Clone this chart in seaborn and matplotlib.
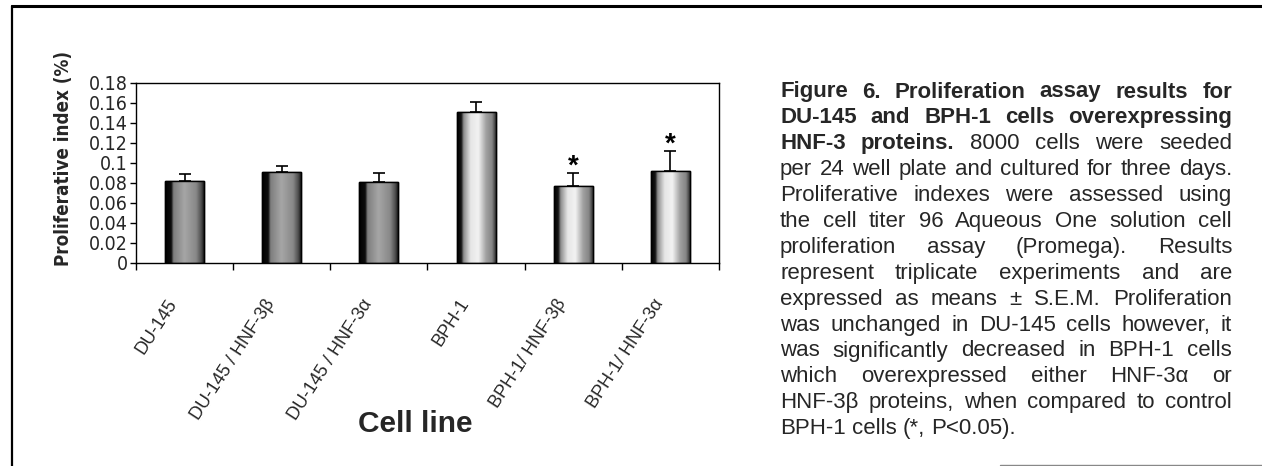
import os
import numpy as np
import pandas as pd
import matplotlib
matplotlib.use("Agg")
import matplotlib.pyplot as plt
import seaborn as sns
from matplotlib import font_manager
from matplotlib.font_manager import FontProperties
from matplotlib.colors import LinearSegmentedColormap
from matplotlib.lines import Line2D

# ---------------- data ----------------
categories = ["DU-145", "DU-145 / HNF-3β", "DU-145 / HNF-3α",
              "BPH-1", "BPH-1/ HNF-3β", "BPH-1/ HNF-3α"]
groups = ["DU-145", "DU-145", "DU-145", "BPH-1", "BPH-1", "BPH-1"]
values = [0.082, 0.091, 0.081, 0.151, 0.077, 0.092]
sem = [0.007, 0.006, 0.009, 0.010, 0.013, 0.020]
significant = [False, False, False, False, True, True]
ytick_values = [0, 0.02, 0.04, 0.06, 0.08, 0.10, 0.12, 0.14, 0.16, 0.18]
ytick_labels = ["0", "0.02", "0.04", "0.06", "0.08", "0.1", "0.12", "0.14", "0.16", "0.18"]
ylabel = "Proliferative index (%)"
xlabel = "Cell line"

caption_lines = [
    [("Figure", "bold"), ("6.", "bold"), ("Proliferation", "bold"), ("assay", "bold"), ("results", "bold"), ("for", "bold")],
    [("DU-145", "bold"), ("and", "bold"), ("BPH-1", "bold"), ("cells", "bold"), ("overexpressing", "bold")],
    [("HNF-3", "bold"), ("proteins.", "bold"), ("8000", "normal"), ("cells", "normal"), ("were", "normal"), ("seeded", "normal")],
    [(w, "normal") for w in "per 24 well plate and cultured for three days.".split()],
    [(w, "normal") for w in "Proliferative indexes were assessed using".split()],
    [(w, "normal") for w in "the cell titer 96 Aqueous One solution cell".split()],
    [(w, "normal") for w in "proliferation assay (Promega). Results".split()],
    [(w, "normal") for w in "represent triplicate experiments and are".split()],
    [(w, "normal") for w in "expressed as means ± S.E.M. Proliferation".split()],
    [(w, "normal") for w in "was unchanged in DU-145 cells however, it".split()],
    [(w, "normal") for w in "was significantly decreased in BPH-1 cells".split()],
    [(w, "normal") for w in "which overexpressed either HNF-3α or".split()],
    [(w, "normal") for w in "HNF-3β proteins, when compared to control".split()],
    [(w, "normal") for w in "BPH-1 cells (*, P<0.05).".split()],
]

# ---------------- fonts ----------------
def available(name):
    try:
        font_manager.findfont(name, fallback_to_default=False)
        return True
    except Exception:
        return False

def find_file(patterns):
    files = [f.fname for f in font_manager.fontManager.ttflist]
    for pat in patterns:
        for fn in files:
            if os.path.basename(fn).lower() == pat.lower():
                return fn
    return None

sns.set_style("white")
main_font = "Liberation Sans" if available("Liberation Sans") else "DejaVu Sans"
plt.rcParams["font.family"] = [main_font, "DejaVu Sans"]

narrow_reg = find_file(["LiberationSansNarrow-Regular.ttf"])
narrow_bold = find_file(["LiberationSansNarrow-Bold.ttf"])
if narrow_reg and narrow_bold:
    ytick_fp = FontProperties(fname=narrow_reg, size=15)
    ylab_fp = FontProperties(fname=narrow_bold, size=16)
else:
    c_reg = find_file(["DejaVuSansCondensed.ttf"])
    c_bold = find_file(["DejaVuSansCondensed-Bold.ttf"])
    if c_reg and c_bold:
        ytick_fp = FontProperties(fname=c_reg, size=14)
        ylab_fp = FontProperties(fname=c_bold, size=13.5)
    else:
        ytick_fp = FontProperties(family=main_font, size=13)
        ylab_fp = FontProperties(family=main_font, weight="bold", size=13.5)

W, H = 1262, 466
fig = plt.figure(figsize=(W / 100, H / 100), dpi=100)
fig.patch.set_facecolor("white")

def fx(px):
    return px / W

def fy(py):
    return 1 - py / H

ax = fig.add_axes([fx(136), fy(263), fx(719) - fx(136), fy(83) - fy(263)])

df = pd.DataFrame({"cell": categories, "value": values, "group": groups})
sns.barplot(data=df, x="cell", y="value", order=categories, color="#999999",
            width=0.4, edgecolor="black", linewidth=1.0, ax=ax, errorbar=None,
            zorder=2)

# gradient shading (cylinder look, like the original Excel bars)
dark_cmap = LinearSegmentedColormap.from_list(
    "dark", [(0.0, "#000000"), (0.16, "#0d0d0d"), (0.22, "#7e7e7e"),
             (0.5, "#a6a6a6"), (0.8, "#888888"), (0.93, "#505050"), (1.0, "#1a1a1a")])
light_cmap = LinearSegmentedColormap.from_list(
    "light", [(0.0, "#000000"), (0.11, "#151515"), (0.17, "#8c8c8c"),
              (0.35, "#e6e6e6"), (0.55, "#f2f2f2"), (0.75, "#a0a0a0"),
              (0.9, "#858585"), (1.0, "#303030")])
grad = np.linspace(0, 1, 256)[np.newaxis, :]
for patch, grp in zip(ax.patches[:len(categories)], groups):
    x0, w, h = patch.get_x(), patch.get_width(), patch.get_height()
    cmap = dark_cmap if grp == "DU-145" else light_cmap
    im = ax.imshow(grad, cmap=cmap, extent=[x0, x0 + w, 0, h], aspect="auto",
                   zorder=2.1, interpolation="bilinear")
    im.set_clip_path(patch)
    ax.add_patch(plt.Rectangle((x0, 0), w, h, fill=False, edgecolor="black",
                               linewidth=1.0, zorder=2.2))

# plus-only error bars
centers = [p.get_x() + p.get_width() / 2 for p in ax.patches[:len(categories)]]
ax.errorbar(centers, values, yerr=[np.zeros(len(sem)), sem], fmt="none",
            ecolor="black", elinewidth=1.2, capsize=4.5, capthick=1.2, zorder=3)

for c, v, e, s in zip(centers, values, sem, significant):
    if s:
        ax.annotate("*", xy=(c, v + e), xytext=(0, -5), textcoords="offset points",
                    ha="center", va="bottom", fontsize=20, fontweight="bold",
                    color="black")

ax.set_xlim(-0.5, len(categories) - 0.5)
ax.set_ylim(0, 0.18)
ax.set_yticks(ytick_values)
ax.set_yticklabels(ytick_labels, fontproperties=ytick_fp)
ax.set_xticks(np.arange(-0.5, len(categories), 1.0))
ax.set_xticklabels([])
# invisible minor ticks carry the rotated category labels (slightly left of centre, as in the original)
ax.set_xticks(np.arange(len(categories)) - 0.11, minor=True)
ax.set_xticklabels(categories, minor=True, rotation=57, ha="right",
                   va="center", rotation_mode="anchor", fontsize=13)
ax.tick_params(axis="x", which="minor", length=0, pad=27)
ax.tick_params(axis="x", which="major", direction="out", length=5, width=1,
               color="black", bottom=True)
ax.tick_params(axis="y", direction="out", length=4, width=1, color="black",
               left=True, pad=2)
for sp in ax.spines.values():
    sp.set_visible(True)
    sp.set_color("black")
    sp.set_linewidth(1.0)
ax.set_xlabel("")
ax.set_ylabel("")
ax.grid(False)

fig.text(fx(64), fy(158), ylabel, rotation=90, ha="center", va="center",
         fontproperties=ylab_fp)
fig.text(fx(415), fy(432), xlabel, ha="center", va="baseline",
         fontsize=21.5, fontweight="bold")

# outer frame
fig.add_artist(Line2D([fx(12), 1.0], [fy(6), fy(6)], color="black", lw=2.2))
fig.add_artist(Line2D([fx(12), fx(12)], [fy(6), 0.0], color="black", lw=1.6))
fig.add_artist(Line2D([fx(1000), 1.0], [fy(465), fy(465)], color="#888888", lw=1.0))

# justified caption
fig.canvas.draw()
renderer = fig.canvas.get_renderer()
cap_left, cap_right = 780, 1232
line_y0, line_step = 92, 25.9
cap_size = 16

def word_width(txt, weight):
    t = fig.text(0, 0, txt, fontsize=cap_size, fontweight=weight)
    bb = t.get_window_extent(renderer)
    t.remove()
    return bb.width

space_w = word_width("a a", "normal") - 2 * word_width("a", "normal")
for i, line in enumerate(caption_lines):
    widths = [word_width(w, wt) for w, wt in line]
    y = line_y0 + i * line_step
    if i < len(caption_lines) - 1 and len(line) > 1:
        gap = (cap_right - cap_left - sum(widths)) / (len(line) - 1)
    else:
        gap = space_w
    x = cap_left
    for (w, wt), ww in zip(line, widths):
        fig.text(fx(x), fy(y), w, fontsize=cap_size, fontweight=wt,
                 ha="left", va="center")
        x += ww + gap

fig.savefig("out.png", dpi=100, facecolor="white")
